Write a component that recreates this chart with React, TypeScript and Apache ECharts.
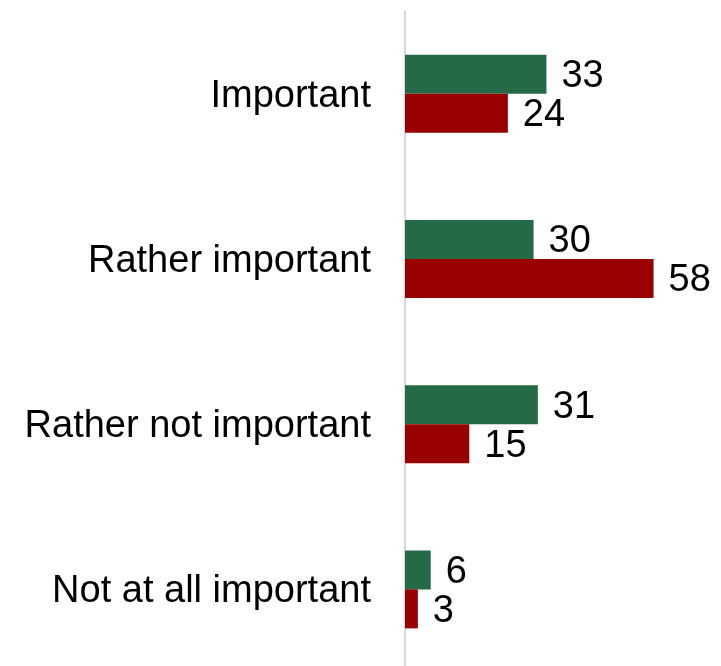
import React, { useEffect, useRef } from "react";
import * as echarts from "echarts";

const categories = ["Important", "Rather important", "Rather not important", "Not at all important"];
const seriesA = [33, 30, 31, 6];
const seriesB = [24, 58, 15, 3];

export default function App() {
  const ref = useRef<HTMLDivElement>(null);
  useEffect(() => {
    const chart = echarts.init(ref.current!, null, { renderer: "svg" });
    const lbl = { show: true, position: "right", distance: 15, color: "#000", fontSize: 38, fontFamily: "Liberation Sans" };
    chart.setOption({
      animation: false,
      textStyle: { fontFamily: "Liberation Sans" },
      grid: { left: 405, right: 16, top: 11, bottom: 0, containLabel: false },
      xAxis: {
        type: "value",
        min: 0,
        max: 70,
        show: false,
      },
      yAxis: {
        type: "category",
        data: categories,
        inverse: true,
        axisLine: { show: true, lineStyle: { color: "#d9d9d9", width: 2 } },
        axisTick: { show: false },
        axisLabel: { color: "#000", fontSize: 38, margin: 34, fontFamily: "Liberation Sans", padding: [4, 0, 0, 0] },
      },
      series: [
        {
          type: "bar",
          data: seriesA,
          barWidth: 39,
          barGap: "0%",
          itemStyle: { color: "#246a46" },
          label: lbl,
        },
        {
          type: "bar",
          data: seriesB,
          barWidth: 39,
          barGap: "0%",
          itemStyle: { color: "#990000" },
          label: lbl,
        },
      ],
    });
    return () => chart.dispose();
  }, []);
  return <div ref={ref} style={{ position: "fixed", left: 0, top: 0, width: 721, height: 672 }} />;
}
